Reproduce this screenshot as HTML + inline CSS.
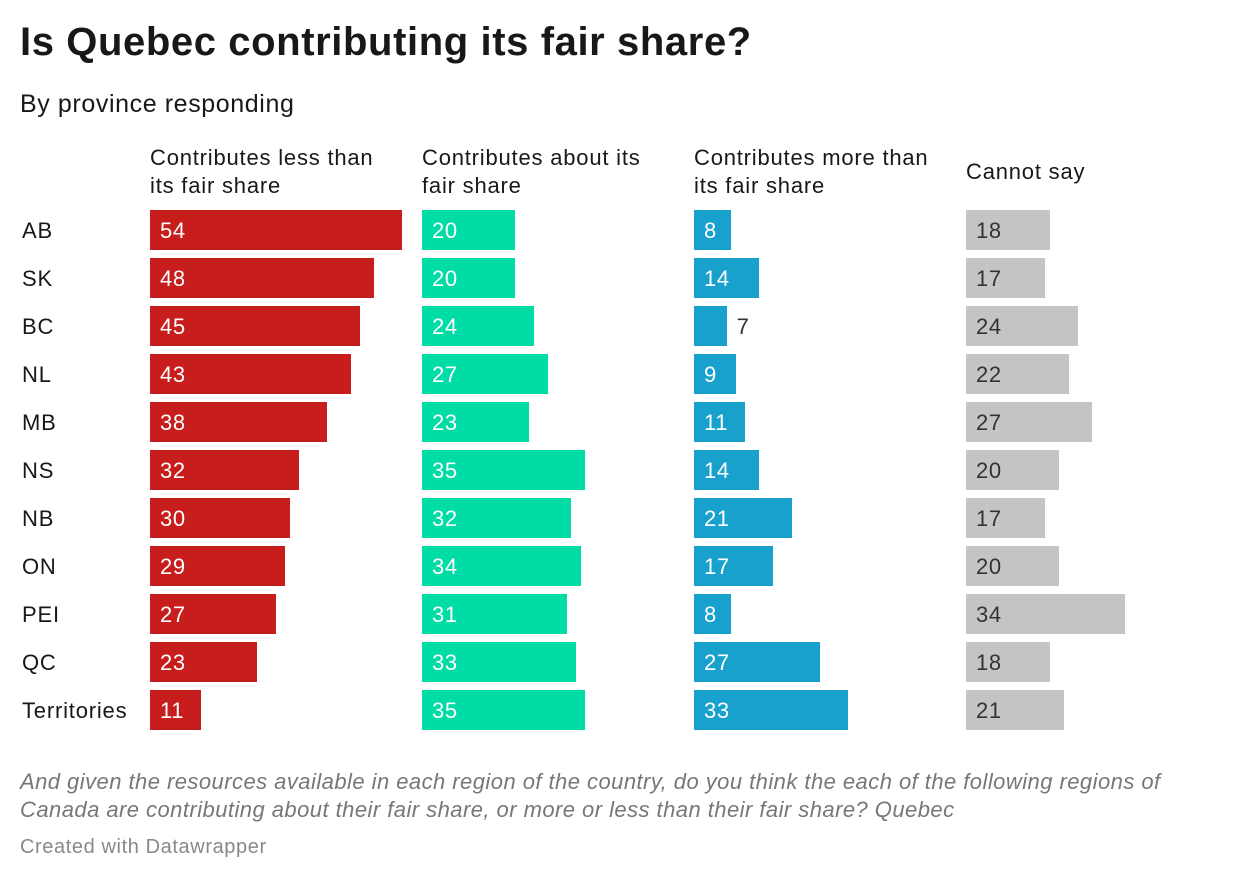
<!DOCTYPE html>
<html><head><meta charset="utf-8">
<style>
body{margin:0;width:1240px;height:882px;background:#fff;font-family:"Liberation Sans",Roboto,sans-serif;color:#181818;overflow:hidden;position:relative}
.abs{position:absolute;white-space:nowrap}
h1{position:absolute;left:20px;top:20px;margin:0;font-size:40px;font-weight:bold;letter-spacing:0.6px}
.sub{left:20px;top:90px;font-size:25px;letter-spacing:0.6px}
.hdr{font-size:22px;line-height:28px;top:144px;letter-spacing:0.8px}
.row{font-size:22px;left:22px;letter-spacing:0.8px}
.val{font-size:22px;color:#fff;letter-spacing:0.6px}
.foot{left:20px;top:768px;font-size:22px;font-style:italic;color:#777;line-height:28px;width:1210px;white-space:normal;letter-spacing:0.45px}
.credit{left:20px;top:836px;font-size:20px;color:#888;letter-spacing:0.6px}
</style></head><body>
<h1>Is Quebec contributing its fair share?</h1>
<div class="abs sub">By province responding</div>
<div id="chart"></div>
<div class="abs foot">And given the resources available in each region of the country, do you think the each of the following regions of Canada are contributing about their fair share, or more or less than their fair share? Quebec</div>
<div class="abs credit">Created with Datawrapper</div>
<script>
const categories=["AB","SK","BC","NL","MB","NS","NB","ON","PEI","QC","Territories"];
const seriesNames=["Contributes less than<br>its fair share","Contributes about its<br>fair share","Contributes more than<br>its fair share","Cannot say"];
const lessValues=[54,48,45,43,38,32,30,29,27,23,11];
const aboutValues=[20,20,24,27,23,35,32,34,31,33,35];
const moreValues=[8,14,7,9,11,14,21,17,8,27,33];
const cannotValues=[18,17,24,22,27,20,17,20,34,18,21];
const series=[lessValues,aboutValues,moreValues,cannotValues];
const colors=["#c71e1d","#00dca6","#18a1cd","#c4c4c4"];
const colKeys=["less","about","more","cannot"];
const colX=[150,422,694,966];
const scale=252/54;
const rowTop=i=>210+i*48;
const xLen=v=>v*scale;
const root=document.getElementById('chart');
function mk(cls,css,html){const d=document.createElement('div');d.className='abs '+cls;d.style.cssText=css;d.innerHTML=html;root.appendChild(d);return d;}
seriesNames.forEach((n,s)=>{
  const h=mk('hdr','left:'+colX[s]+'px;'+(s===3?'top:158px;':''),n);
  
  
});
categories.forEach((c,i)=>{
  const l=mk('row','top:'+(rowTop(i)+8)+'px;',c);
  
  
  series.forEach((arr,s)=>{
    const v=arr[i],w=xLen(v);
    const b=mk('','left:'+colX[s]+'px;top:'+rowTop(i)+'px;width:'+w+'px;height:40px;background:'+colors[s],'');
    
    
    const inside=w>=36;
    const t=mk('val','top:'+(rowTop(i)+8)+'px;left:'+(inside?colX[s]+10:colX[s]+w+10)+'px;color:'+(inside&&s<3?'#fff':'#333'),String(v));
    
    
  });
});
</script>
</body></html>
